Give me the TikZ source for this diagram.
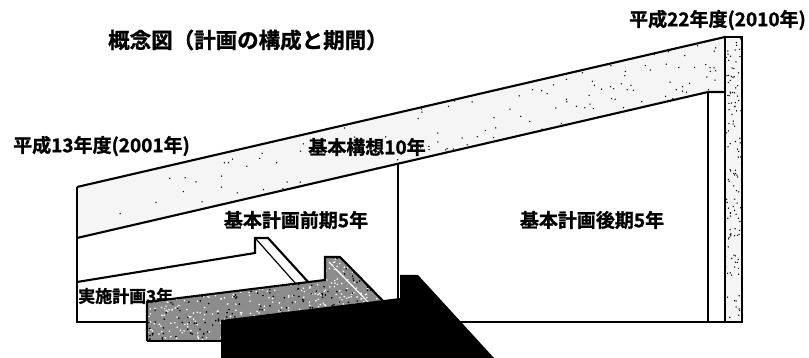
\documentclass[tikz,border=0pt]{standalone}
\usepackage{fontspec}
\newfontfamily\jp[FakeBold=1.2]{Noto Sans CJK JP Bold}
\begin{document}
\begin{tikzpicture}[x=1pt,y=-1pt,
  ol/.style={line width=2.1pt, line join=miter},
  thin/.style={line width=1.2pt},
  lbl/.style={font=\jp\fontsize{19}{19}\selectfont, inner sep=0pt},
  ttl/.style={font=\jp\fontsize{21.5}{21.5}\selectfont, inner sep=0pt}]
\useasboundingbox[fill=white] (0,0) rectangle (809,358);

% ---- band: basic concept 10 years
\coordinate (b1) at (77,187);
\coordinate (b2) at (725,37);
\coordinate (b3) at (725,92);
\coordinate (b4) at (708,92);
\coordinate (b5) at (77,238);
\fill[black!4] (b1) -- (b2) -- (b3) -- (b4) -- (b5) -- cycle;
\begin{scope}
  \clip (b1) -- (b2) -- (b3) -- (b4) -- (b5) -- cycle;
  \pgfmathsetseed{3}
  \foreach \i in {1,...,480}{
    \pgfmathsetmacro\xx{77+648*sqrt(rnd)}
    \pgfmathsetmacro\yy{37+201*rnd}
    \fill (\xx,\yy) circle (0.75pt);
  }
\end{scope}

% ---- right strip
\fill[black!4] (725,37) rectangle (742,322);
\begin{scope}
  \clip (725,37) rectangle (742,322);
  \pgfmathsetseed{11}
  \foreach \i in {1,...,130}{
    \pgfmathsetmacro\xx{725+17*rnd}
    \pgfmathsetmacro\yy{37+285*rnd}
    \fill (\xx,\yy) circle (0.75pt);
  }
\end{scope}

% ---- outlines of the frame
\draw[ol] (b1) -- (b2);
\draw[ol] (b5) -- (b4) -- (b3);
\draw[ol] (725,37) rectangle (742,322);
\draw[ol] (708,92) -- (708,322);
\draw[ol] (b1) -- (77,322) -- (147,322);
\draw[ol] (440,322) -- (742,322);
\draw[thin] (398,164) -- (398,300);

% ---- first-term plan: rising line with step and folded bar
\draw[ol] (77,282) -- (255,253) -- (255,238) -- (268,238) -- (310,284);
\draw[thin] (256,239) -- (296,284);

% ---- labels
\node[ttl, anchor=west] (title) at (108,40) {概念図（計画の構成と期間）};
\node[lbl, anchor=east] (y2010) at (806,20) {平成22年度(2010年)};
\node[lbl, anchor=west] (y2001) at (13,146) {平成13年度(2001年)};
\node[lbl] (kousou) at (367,147) {基本構想10年};
\node[lbl] (zenki) at (296,220) {基本計画前期5年};
\node[lbl] (kouki) at (592,220) {基本計画後期5年};
\node[lbl, anchor=west, font=\jp\fontsize{17}{17}\selectfont] (jisshi) at (78,296) {実施計画3年};

% ---- implementation plan: dense stippled shape
\coordinate (s1) at (147,302);
\coordinate (s2) at (325,280);
\coordinate (s3) at (325,257);
\coordinate (s4) at (340,257);
\coordinate (s5) at (386,304);
\coordinate (s6) at (386,341);
\coordinate (s7) at (147,341);
\fill[black!45] (s1) -- (s2) -- (s3) -- (s4) -- (s5) -- (s6) -- (s7) -- cycle;
\begin{scope}
  \clip (s1) -- (s2) -- (s3) -- (s4) -- (s5) -- (s6) -- (s7) -- cycle;
  \pgfmathsetseed{5}
  \foreach \i in {1,...,500}{
    \pgfmathsetmacro\xx{147+239*rnd}
    \pgfmathsetmacro\yy{257+84*rnd}
    \fill[white] (\xx,\yy) circle (0.9pt);
  }
  \foreach \i in {1,...,300}{
    \pgfmathsetmacro\xx{147+239*rnd}
    \pgfmathsetmacro\yy{257+84*rnd}
    \fill[black] (\xx,\yy) circle (0.9pt);
  }
\end{scope}
\draw[ol] (s7) -- (s1) -- (s2) -- (s3) -- (s4) -- (s5);
\draw[ol] (s7) -- (230,341);
\draw[thin, white] (329,262) -- (370,304);

% ---- black block
\fill[black] (221,320) -- (400,298) -- (400,275) -- (418,275) -- (494,358) -- (221,358) -- cycle;
\end{tikzpicture}
\end{document}
